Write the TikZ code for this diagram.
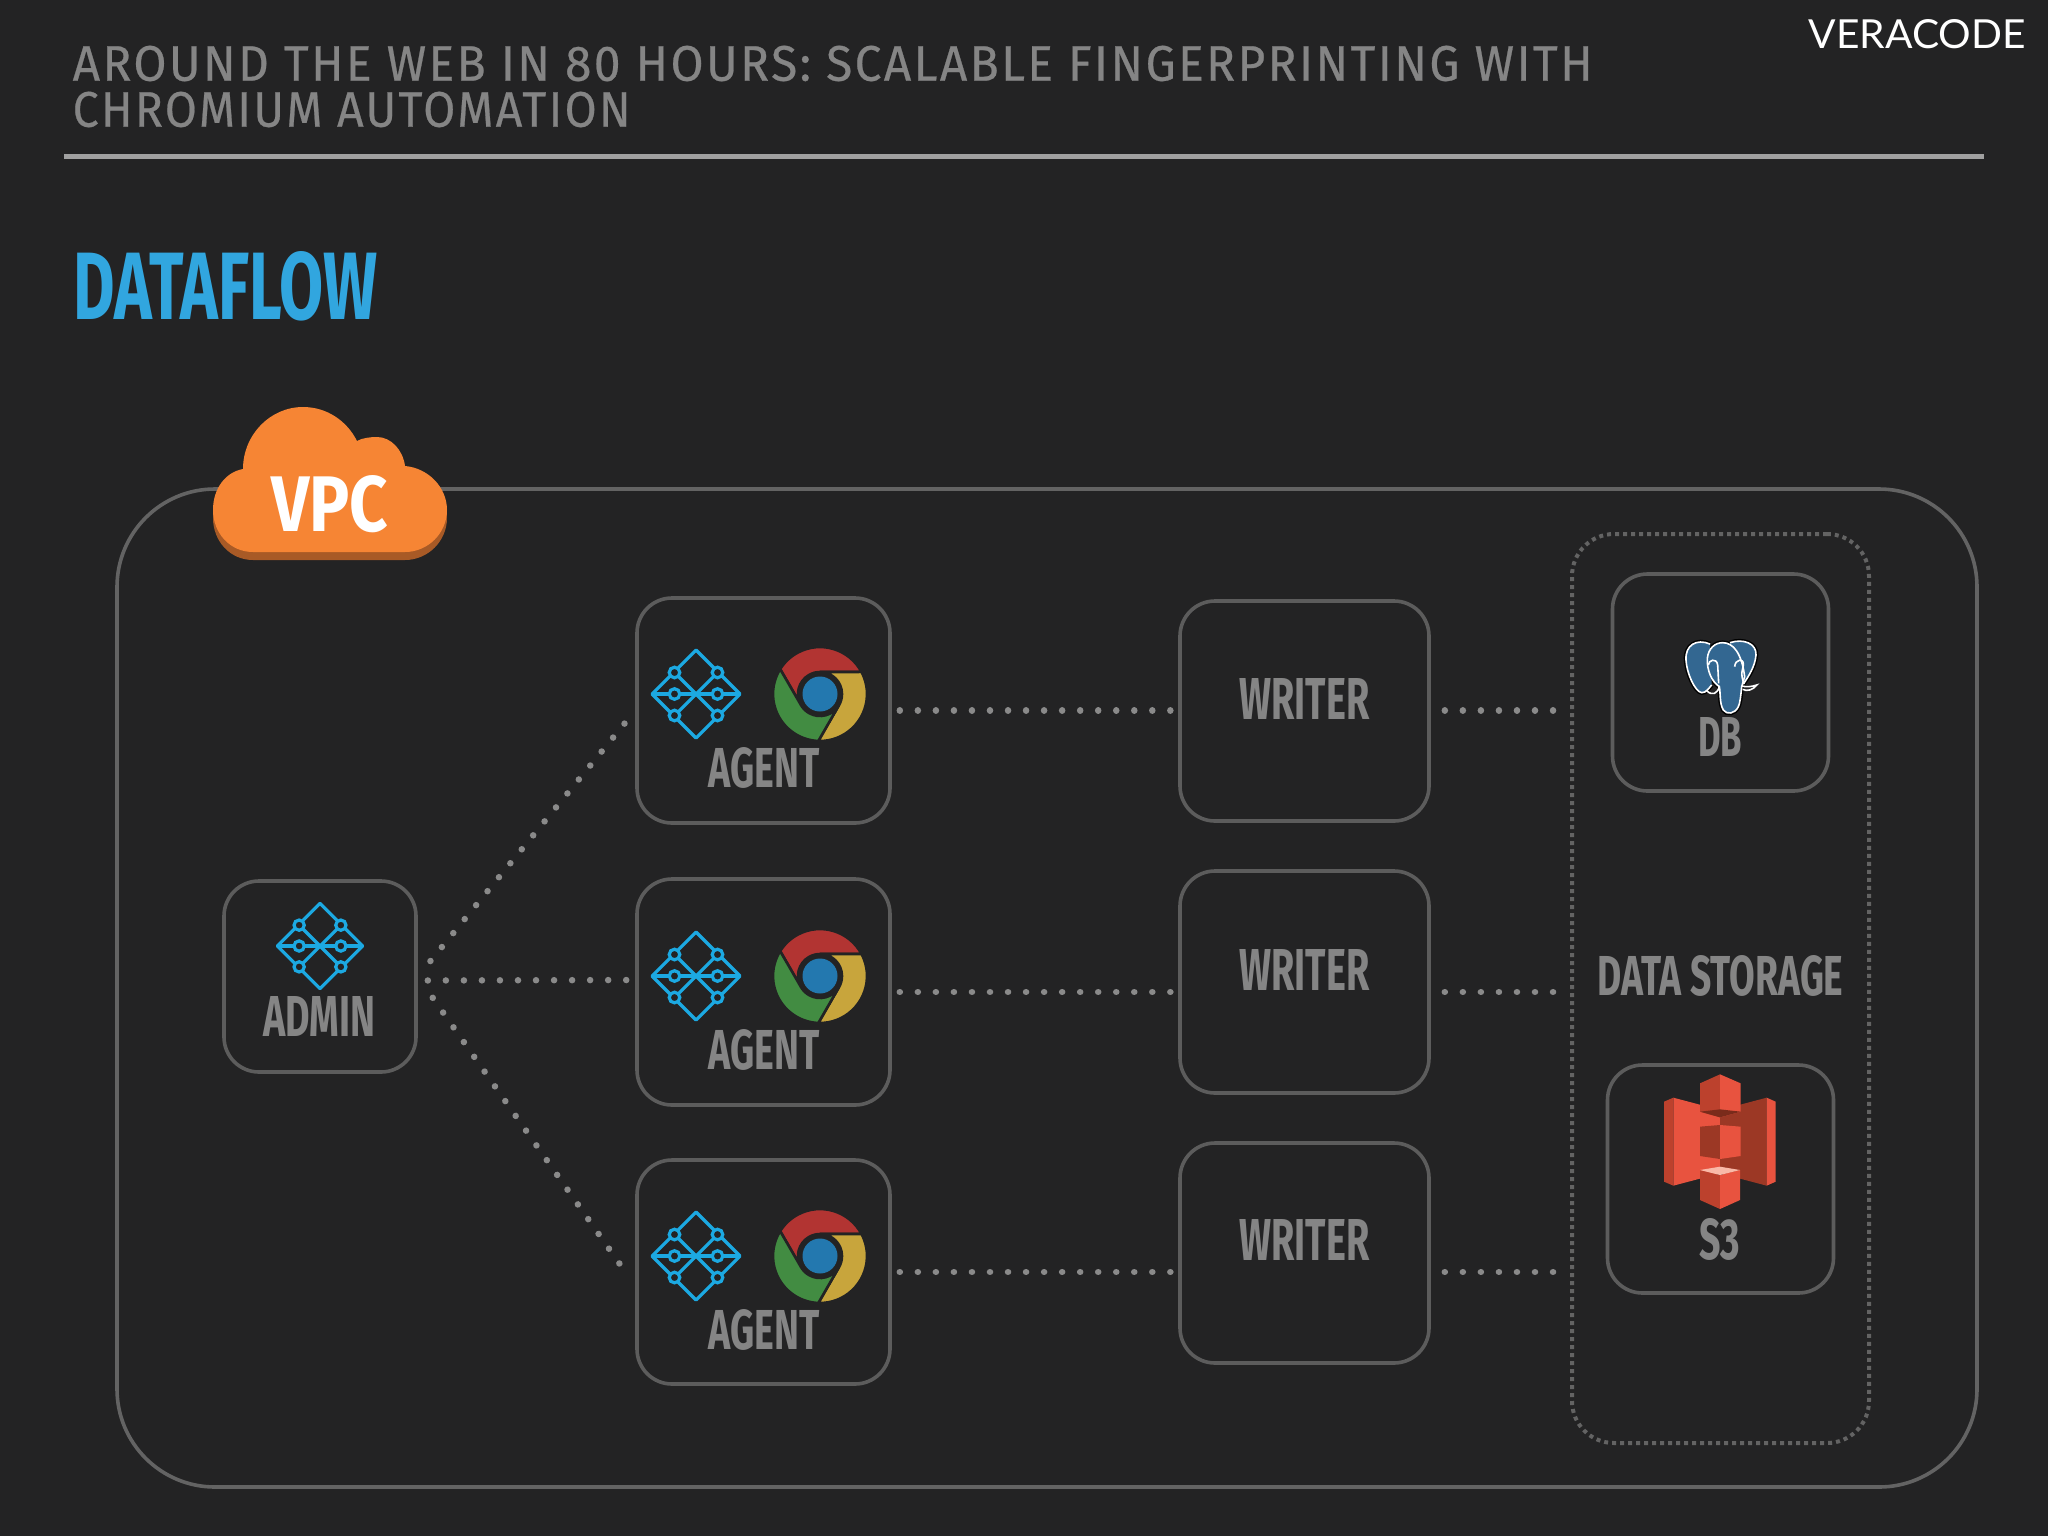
\documentclass[tikz,border=0pt]{standalone}
\usepackage{graphicx}
\usepackage{fontspec}
\setmainfont{Fira Sans}
\newfontfamily\slidefont[LetterSpace=5,FakeBold=0.5]{Fira Sans}
\newfontfamily\brandfont{Lato}
\usetikzlibrary{calc,positioning}
\newlength\pxu
\setlength\pxu{0.01cm}
\definecolor{bgdark}{HTML}{232324}
\definecolor{boxgray}{HTML}{5C5C5C}
\definecolor{framegray}{HTML}{636363}
\definecolor{dotgray}{HTML}{8A8A8A}
\definecolor{labelgray}{HTML}{858585}
\definecolor{rulegray}{HTML}{A0A0A0}
\definecolor{titleblue}{HTML}{31A6DF}
\definecolor{meshblue}{HTML}{1CA9E2}
\definecolor{cloudorange}{HTML}{F68534}
\definecolor{cloudshade}{HTML}{A85A26}
\definecolor{chromered}{HTML}{B23432}
\definecolor{chromegreen}{HTML}{428C42}
\definecolor{chromeyellow}{HTML}{C8A53C}
\definecolor{chromeblue}{HTML}{2378AF}
\definecolor{bucketlight}{HTML}{E8533F}
\definecolor{bucketmid}{HTML}{BC412D}
\definecolor{bucketdark}{HTML}{9C3825}
\definecolor{bucketdeep}{HTML}{7A2B1B}
\definecolor{buckettop}{HTML}{F9B9A8}
\definecolor{pgblue}{HTML}{336791}
\tikzset{
	boxnode/.style={draw=boxgray, fill=bgdark, line width=3.6\pxu, rounded corners=35\pxu, inner sep=0pt},
	boxlabel/.style={text=labelgray, inner sep=0pt, font=\bfseries},
	flowline/.style={draw=dotgray, line width=6.5\pxu, line cap=round, dash pattern=on 0.01pt off 18\pxu},
	meshline/.style={draw=meshblue, line width=3.2\pxu},
	pgline/.style={draw=white, line width=1.6\pxu}
}
\def\fitbox#1#2#3{\resizebox{#1\pxu}{#2\pxu}{#3}}
\def\meshlogo(#1)(#2){
	\begin{scope}[shift={(#1)},scale=#2]
		\draw[meshline, line join=round] (-44,0) -- (0,-44) -- (44,0) -- (0,44) -- cycle;
		\draw[meshline] (-22,-22) -- (22,22);
		\draw[meshline] (-22,22) -- (22,-22);
		\draw[meshline] (-44,0) -- (44,0);
		\draw[meshline, fill=bgdark] (-21.5,-21.5) circle (5.3);
		\draw[meshline, fill=bgdark] (21.5,-21.5) circle (5.3);
		\draw[meshline, fill=bgdark] (-21.5,0) circle (5.3);
		\draw[meshline, fill=bgdark] (21.5,0) circle (5.3);
		\draw[meshline, fill=bgdark] (-21.5,21.5) circle (5.3);
		\draw[meshline, fill=bgdark] (21.5,21.5) circle (5.3);
	\end{scope}
}
\def\chromelogo(#1){
	\begin{scope}[shift={(#1)},yscale=-1]
		\path[fill=chromered, draw=bgdark, line width=2.6\pxu] (90:22) -- (28:47) arc (28:148:47) -- (210:22) arc (210:90:22) -- cycle;
		\path[fill=chromeyellow, draw=bgdark, line width=2.6\pxu] (-30:22) -- (-92:47) arc (-92:28:47) -- (90:22) arc (90:-30:22) -- cycle;
		\path[fill=chromegreen, draw=bgdark, line width=2.6\pxu] (210:22) -- (148:47) arc (148:268:47) -- (330:22) arc (330:210:22) -- cycle;
		\fill[chromeblue] (0,0) circle (17.5);
	\end{scope}
}
\def\cloudpath{(253,552) .. controls (230,552) and (213,533) .. (213,510) .. controls (213,488) and (226,472) .. (243,469) .. controls (243,435) and (270,407) .. (303,407) .. controls (327,407) and (347,421) .. (357,441) .. controls (362,438) and (370,437) .. (377,437) .. controls (391,437) and (403,450) .. (405,466) .. controls (428,468) and (447,487) .. (447,510) .. controls (447,533) and (428,552) .. (405,552) -- cycle}
\def\earleftpath{(330,222) .. controls (290,205) and (255,225) .. (258,270) .. controls (260,310) and (285,365) .. (305,368) .. controls (318,370) and (330,350) .. (335,345)}
\def\earrightpath{(390,218) .. controls (430,205) and (470,220) .. (468,255) .. controls (465,290) and (445,320) .. (430,342)}
\def\headpath{(322,265) .. controls (325,235) and (345,218) .. (368,218) .. controls (400,218) and (425,250) .. (434,320) -- (425,350) .. controls (422,380) and (420,400) .. (415,410) .. controls (405,432) and (380,435) .. (370,420) .. controls (358,400) and (362,370) .. (358,350) .. controls (335,335) and (320,300) .. (322,265)}

\begin{document}
\begin{tikzpicture}[x=0.01cm, y=-0.01cm]
		\useasboundingbox (0,0) rectangle (2048,1536);
		\fill[bgdark] (0,0) rectangle (2048,1536);
		
		%%%%% HEADER %%%%%
		\node[anchor=south west, inner sep=0pt, text=labelgray] (titleone) at (72,82) {\fitbox{1520}{35}{\slidefont AROUND THE WEB IN 80 HOURS: SCALABLE FINGERPRINTING WITH}};
		\node[anchor=south west, inner sep=0pt, text=labelgray] (titletwo) at (72,128) {\fitbox{558}{35}{\slidefont CHROMIUM AUTOMATION}};
		\node[anchor=south west, inner sep=0pt, text=white] (brand) at (1808,50) {\fitbox{217}{29}{\brandfont VERACODE}};
		\draw[draw=rulegray, line width=4.5\pxu] (64,156.5) -- (1984,156.5);
		\node[anchor=south west, inner sep=0pt, text=titleblue, font=\bfseries] (heading) at (73,322) {\fitbox{304}{68}{DATAFLOW}};
		
		%%%%% FRAMES %%%%%
		\node[draw=framegray, line width=3.6\pxu, rounded corners=98\pxu, minimum width=1860\pxu, minimum height=998\pxu] (vpc) at (1047,988) {};
		\node[draw=framegray, line width=4\pxu, rounded corners=42\pxu, dash pattern=on 4\pxu off 4\pxu, minimum width=297\pxu, minimum height=909\pxu] (storage) at (1720.5,988.5) {};
		
		\node[boxnode, minimum width=192\pxu, minimum height=191\pxu] (admin) at (320,976.5) {};
		\node[boxnode, minimum width=253\pxu, minimum height=225\pxu] (agenta) at (763.5,710.5) {};
		\node[boxnode, minimum width=253\pxu, minimum height=226\pxu] (agentb) at (763.5,992) {};
		\node[boxnode, minimum width=253\pxu, minimum height=224\pxu] (agentc) at (763.5,1272) {};
		\node[boxnode, minimum width=249\pxu, minimum height=220\pxu] (writera) at (1304.5,711) {};
		\node[boxnode, minimum width=249\pxu, minimum height=222\pxu] (writerb) at (1304.5,982) {};
		\node[boxnode, minimum width=249\pxu, minimum height=220\pxu] (writerc) at (1304.5,1253) {};
		\node[boxnode, minimum width=216\pxu, minimum height=217\pxu] (db) at (1720.5,682.5) {};
		\node[boxnode, minimum width=226\pxu, minimum height=228\pxu] (bucket) at (1720.5,1179) {};
		
		%%%%% CONNECTORS %%%%%
		\draw[flowline, shorten >=16\pxu, shorten <=20\pxu] (admin.east) -- (agenta.west);
		\draw[flowline, shorten >=6\pxu, shorten <=10\pxu] ([yshift=-4\pxu]admin.east) -- ([yshift=12\pxu]agentb.west);
		\draw[flowline, shorten >=18\pxu, shorten <=26\pxu] (admin.east) -- ([yshift=-14\pxu]agentc.west);
		
		\draw[flowline, shorten >=7\pxu, shorten <=8\pxu] (agenta.east) -- (agenta.east -| writera.west);
		\draw[flowline, shorten >=7\pxu, shorten <=8\pxu] (agentb.east) -- (agentb.east -| writerb.west);
		\draw[flowline, shorten >=7\pxu, shorten <=8\pxu] (agentc.east) -- (agentc.east -| writerc.west);
		
		\draw[flowline, shorten >=12\pxu, shorten <=14\pxu] (agenta.east -| writera.east) -- (agenta.east -| storage.west);
		\draw[flowline, shorten >=12\pxu, shorten <=14\pxu] (agentb.east -| writerb.east) -- (agentb.east -| storage.west);
		\draw[flowline, shorten >=12\pxu, shorten <=14\pxu] (agentc.east -| writerc.east) -- (agentc.east -| storage.west);
		
		%%%%% CLOUD %%%%%
		\fill[cloudshade, yshift=-8\pxu] \cloudpath;
		\fill[cloudorange] \cloudpath;
		\node[text=white, inner sep=0pt, font=\bfseries] (vpclabel) at (329.5,504) {\fitbox{117}{56}{VPC}};
		
		%%%%% ICONS AND LABELS %%%%%
		\meshlogo(320,946)(0.97)
		\node[boxlabel] (adminlabel) at (319.5,1016) {\fitbox{112}{40}{ADMIN}};
		
		\meshlogo(696,694)(1)
		\chromelogo(820,694)
		\node[boxlabel] (agentalabel) at (764,768) {\fitbox{111}{40}{AGENT}};
		\meshlogo(696,976)(1)
		\chromelogo(820,976)
		\node[boxlabel] (agentblabel) at (764,1050) {\fitbox{111}{40}{AGENT}};
		\meshlogo(696,1256)(1)
		\chromelogo(820,1256)
		\node[boxlabel] (agentclabel) at (764,1330) {\fitbox{111}{40}{AGENT}};
		
		\node[boxlabel] (writeralabel) at (1304.5,699) {\fitbox{130}{41}{WRITER}};
		\node[boxlabel] (writerblabel) at (1304.5,970) {\fitbox{130}{41}{WRITER}};
		\node[boxlabel] (writerclabel) at (1304.5,1240) {\fitbox{130}{41}{WRITER}};
		
		\node[boxlabel] (storagelabel) at (1720.5,976) {\fitbox{246}{40}{DATA STORAGE}};
		\node[boxlabel] (dblabel) at (1720,737) {\fitbox{44}{39}{DB}};
		\node[boxlabel] (bucketlabel) at (1719.5,1239) {\fitbox{41}{41}{S3}};
		
		%%%%% ELEPHANT %%%%%
		\begin{scope}[shift={(1600,570)},scale=1/3]
			\draw[draw=black, line width=4.5\pxu] \earleftpath;
			\draw[draw=black, line width=4.5\pxu] \earrightpath;
			\draw[draw=black, line width=4.5\pxu] \headpath;
			\fill[pgblue] \earleftpath -- cycle;
			\fill[pgblue] \earrightpath -- (400,300) -- cycle;
			\fill[pgblue] \headpath -- cycle;
			\path[pgline] \earleftpath;
			\path[pgline] \earrightpath;
			\path[pgline] \headpath;
			\path[pgline] (325,285) .. controls (325,270) and (350,262) .. (353,285) -- (356,340);
			\path[pgline] (404,290) .. controls (405,268) and (432,262) .. (430,285) .. controls (428,300) and (420,310) .. (432,342);
			\path[pgline] (320,362) .. controls (335,378) and (355,372) .. (358,347);
			\path[pgline] (425,348) .. controls (440,352) and (455,350) .. (470,345) .. controls (460,360) and (440,365) .. (428,358);
		\end{scope}
		
		%%%%% BUCKET %%%%%
		\begin{scope}[shift={(1600,1060)},scale=1/3]
			\fill[bucketlight] (220,113) -- (360,150) -- (360,340) -- (220,377) -- cycle;
			\fill[bucketmid] (192,125) -- (220,113) -- (220,377) -- (192,365) -- cycle;
			\fill[bucketdark] (360,150) -- (500,113) -- (500,377) -- (360,340) -- cycle;
			\fill[bucketlight] (500,113) -- (527,125) -- (527,365) -- (500,377) -- cycle;
			\fill[bucketmid] (360,43) -- (300,70) -- (300,155) -- (360,172) -- cycle;
			\fill[bucketlight] (360,43) -- (422,70) -- (422,155) -- (360,172) -- cycle;
			\fill[bucketdeep] (300,155) -- (360,148) -- (422,155) -- (360,172) -- cycle;
			\fill[bucketdark] (300,200) -- (360,195) -- (360,297) -- (300,288) -- cycle;
			\fill[bucketlight] (360,195) -- (422,200) -- (422,288) -- (360,297) -- cycle;
			\fill[bucketmid] (300,330) -- (360,345) -- (360,447) -- (300,420) -- cycle;
			\fill[bucketlight] (360,345) -- (420,330) -- (420,420) -- (360,447) -- cycle;
			\fill[buckettop] (300,330) -- (360,320) -- (420,330) -- (360,345) -- cycle;
		\end{scope}
\end{tikzpicture}
\end{document}
